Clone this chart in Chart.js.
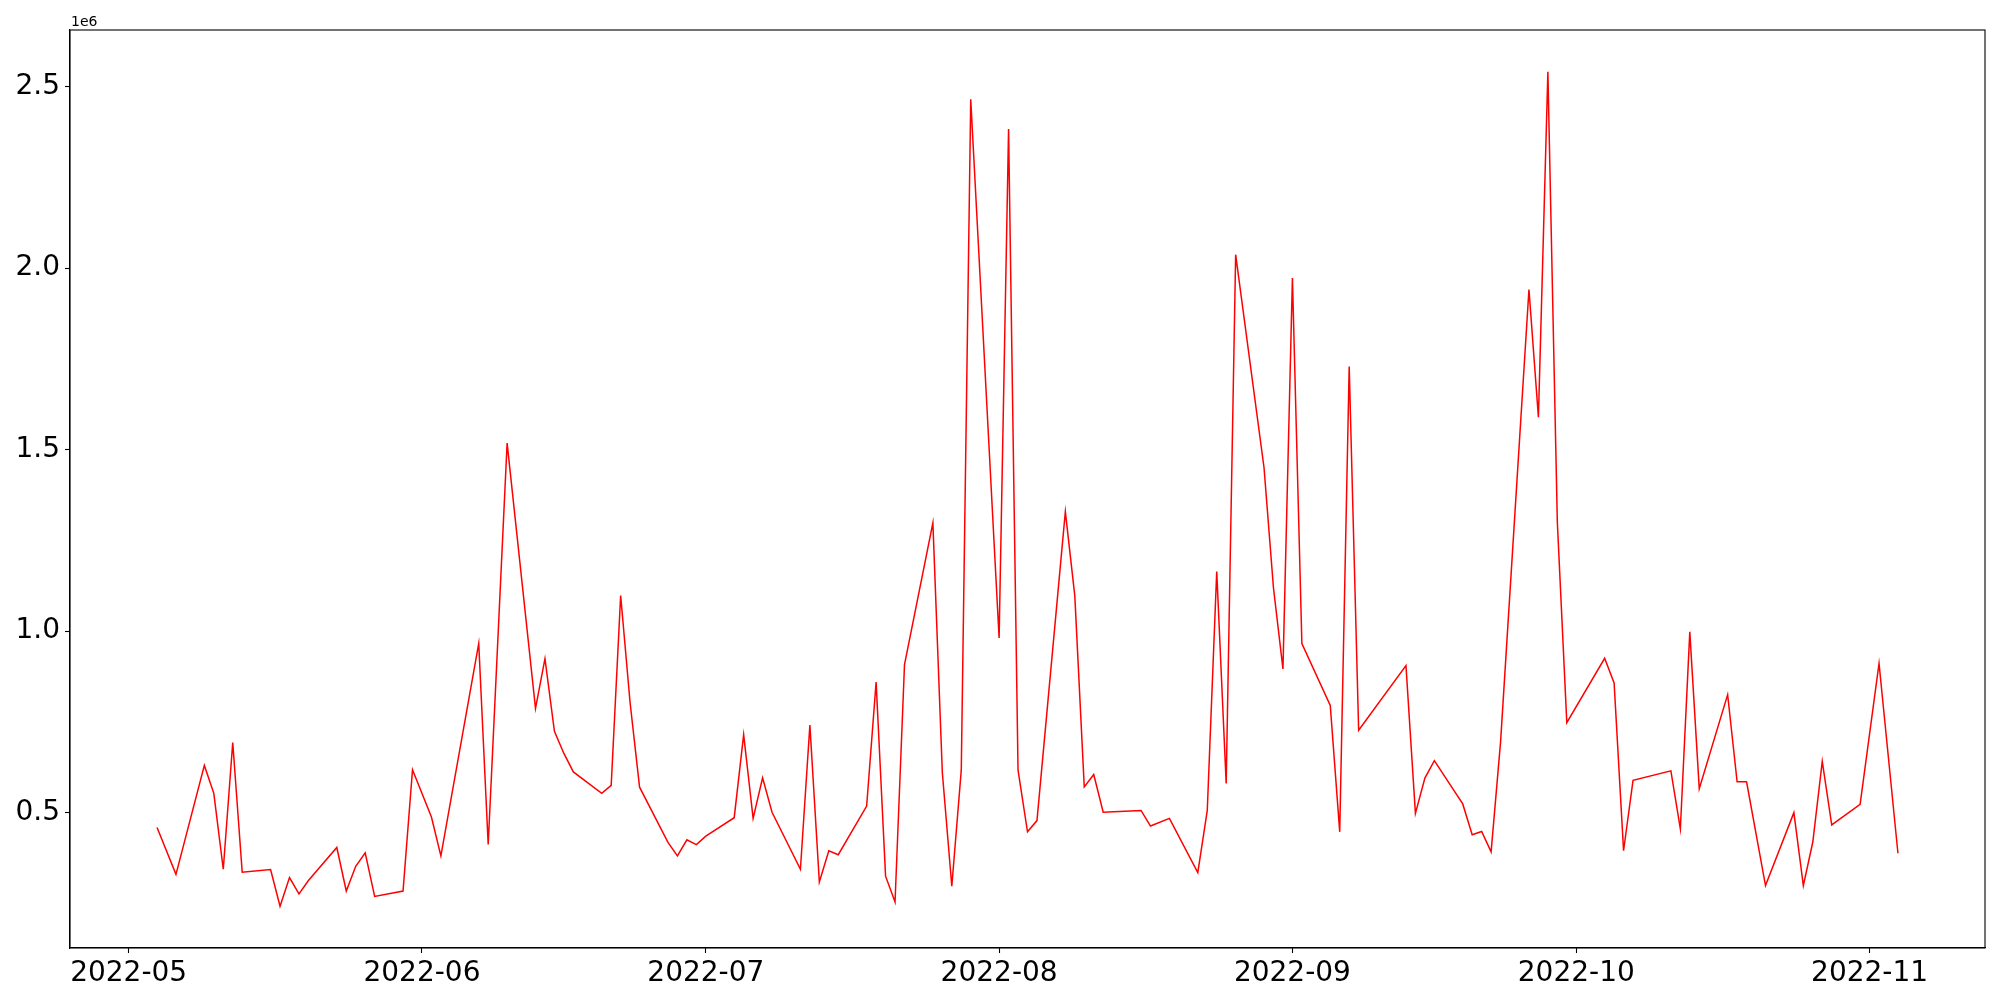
<!DOCTYPE html>
<html><head><meta charset="utf-8">
<script src="https://cdn.jsdelivr.net/npm/chart.js@4.4.0/dist/chart.umd.min.js"></script>
<style>html,body{margin:0;padding:0;background:#fff}#wrap{width:2000px;height:1000px;position:relative}</style>
</head><body><div id="wrap"><canvas id="c" width="2000" height="1000"></canvas></div>
<script>
const dates = [
'2022-05-04','2022-05-06','2022-05-09','2022-05-10','2022-05-11','2022-05-12','2022-05-13',
'2022-05-16','2022-05-17','2022-05-18','2022-05-19','2022-05-20','2022-05-23','2022-05-24',
'2022-05-25','2022-05-26','2022-05-27','2022-05-30','2022-05-31','2022-06-02','2022-06-03',
'2022-06-07','2022-06-08','2022-06-10','2022-06-13','2022-06-14','2022-06-15','2022-06-16',
'2022-06-17','2022-06-20','2022-06-21','2022-06-22','2022-06-23','2022-06-24','2022-06-27',
'2022-06-28','2022-06-29','2022-06-30','2022-07-01','2022-07-04','2022-07-05','2022-07-06',
'2022-07-07','2022-07-08','2022-07-11','2022-07-12','2022-07-13','2022-07-14','2022-07-15',
'2022-07-18','2022-07-19','2022-07-20','2022-07-21','2022-07-22','2022-07-25','2022-07-26',
'2022-07-27','2022-07-28','2022-07-29','2022-08-01','2022-08-02','2022-08-03','2022-08-04',
'2022-08-05','2022-08-08','2022-08-09','2022-08-10','2022-08-11','2022-08-12','2022-08-16',
'2022-08-17','2022-08-19','2022-08-22','2022-08-23','2022-08-24','2022-08-25','2022-08-26',
'2022-08-29','2022-08-30','2022-08-31','2022-09-01','2022-09-02','2022-09-05','2022-09-06',
'2022-09-07','2022-09-08','2022-09-13','2022-09-14','2022-09-15','2022-09-16','2022-09-19',
'2022-09-20','2022-09-21','2022-09-22','2022-09-23','2022-09-26','2022-09-27','2022-09-28',
'2022-09-29','2022-09-30','2022-10-04','2022-10-05','2022-10-06','2022-10-07','2022-10-11',
'2022-10-12','2022-10-13','2022-10-14','2022-10-17','2022-10-18','2022-10-19','2022-10-21',
'2022-10-24','2022-10-25','2022-10-26','2022-10-27','2022-10-28','2022-10-31','2022-11-02',
'2022-11-04'
];
const volumes = [
459000,330000,630000,553000,344000,693000,336000,
343000,242000,321000,276000,313000,404000,284000,
352000,389000,269000,284000,618000,488000,381000,
966000,412000,1518000,787000,924000,724000,663000,
612000,553000,575000,1098000,802000,570000,418000,
381000,425000,412000,435000,486000,715000,484000,
596000,501000,344000,741000,309000,395000,384000,
518000,860000,325000,254000,908000,1298000,610000,
297000,617000,2465000,981000,2383000,617000,447000,
478000,1329000,1097000,571000,605000,501000,506000,
463000,484000,335000,506000,1164000,580000,2037000,
1450000,1118000,896000,1973000,966000,795000,447000,
1729000,727000,905000,498000,595000,643000,524000,
439000,448000,392000,695000,1941000,1589000,2541000,
1300000,748000,925000,857000,395000,589000,615000,
455000,998000,566000,825000,585000,585000,299000,
500000,299000,419000,641000,466000,523000,911000,
388000
];
const yTickValues = [500000,1000000,1500000,2000000,2500000];
const xTickLabels = ['2022-05','2022-06','2022-07','2022-08','2022-09','2022-10','2022-11'];
const offsetText = '1e6';

function toTs(s){const p=s.split('-').map(Number);return Date.UTC(p[0],p[1]-1,p[2]||1);}
const points = dates.map((d,i)=>({x:toTs(d),y:volumes[i]}));
const xs = points.map(p=>p.x), ys = volumes;
const xMinD=Math.min(...xs), xMaxD=Math.max(...xs), yMinD=Math.min(...ys), yMaxD=Math.max(...ys);
const xm=(xMaxD-xMinD)*0.05, ym=(yMaxD-yMinD)*0.05;

const frame = {
  id:'frame',
  afterDraw(chart){
    const {ctx, chartArea:a} = chart;
    ctx.save();
    ctx.strokeStyle='#000'; ctx.lineWidth=1.1;
    ctx.strokeRect(a.left, a.top, a.right-a.left, a.bottom-a.top);
    ctx.fillStyle='#000'; ctx.font='14px "DejaVu Sans"';
    ctx.textAlign='left'; ctx.textBaseline='alphabetic';
    ctx.fillText(offsetText, a.left+1, a.top-4);
    ctx.restore();
  }
};

new Chart(document.getElementById('c'), {
  type:'line',
  data:{datasets:[{data:points,borderColor:'#ff0000',borderWidth:1.5,pointRadius:0,tension:0,fill:false}]},
  options:{
    responsive:false, animation:false, devicePixelRatio:1,
    layout:{padding:{top:30,right:15,left:0,bottom:0}},
    plugins:{legend:{display:false},tooltip:{enabled:false}},
    scales:{
      x:{type:'linear',min:xMinD-xm,max:xMaxD+xm,
        afterBuildTicks(s){s.ticks=xTickLabels.map(l=>({value:toTs(l)}));},
        afterFit(s){s.height=52;},
        grid:{drawOnChartArea:false,tickLength:5,tickColor:'#000',tickWidth:1.1},
        border:{color:'#000',width:1.1},
        ticks:{font:{family:'"DejaVu Sans"',size:28},color:'#000',padding:4,maxRotation:0,autoSkip:false,
          callback(v){const d=new Date(v);return d.getUTCFullYear()+'-'+String(d.getUTCMonth()+1).padStart(2,'0');}}
      },
      y:{type:'linear',min:yMinD-ym,max:yMaxD+ym,
        afterBuildTicks(s){s.ticks=yTickValues.map(v=>({value:v}));},
        afterFit(s){s.width=70;},
        grid:{drawOnChartArea:false,tickLength:5,tickColor:'#000',tickWidth:1.1},
        border:{color:'#000',width:1.1},
        ticks:{font:{family:'"DejaVu Sans"',size:28},color:'#000',padding:5,
          callback(v){return (v/1e6).toFixed(1);}}
      }
    }
  },
  plugins:[frame]
});
</script></body></html>
